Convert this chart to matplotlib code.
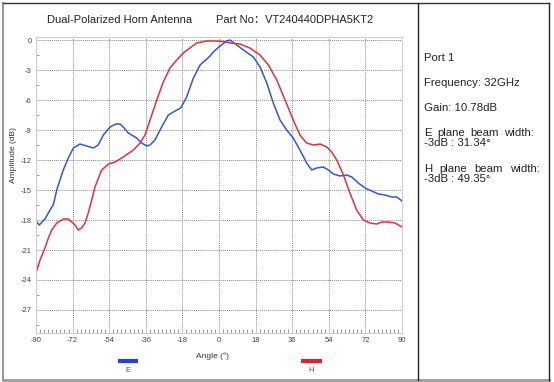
import matplotlib
matplotlib.use("Agg")
import matplotlib.pyplot as plt
from matplotlib.lines import Line2D
from matplotlib.ticker import MultipleLocator

plt.rcParams['font.family'] = ['Liberation Sans', 'Noto Sans CJK SC', 'DejaVu Sans']

e_angle = [-90, -88.4, -85.6, -83.1, -81.5, -79.8, -76.6, -74.1, -71.6, -68.4, -65.1, -61.8, -59.4,
           -56.9, -53.6, -50.7, -48.7, -47.1, -44.6, -40.5, -38.0, -35.6, -33.9, -31.5, -28.2, -24.9,
           -21.6, -18.8, -15.9, -12.6, -9.3, -6.0, -4.4, -2.8, 0.5, 3.8, 5.4, 8.7, 12.0, 16.9, 20.2,
           23.5, 26.7, 30.0, 33.3, 36.5, 39.8, 43.1, 45.6, 48.0, 51.3, 53.8, 56.2, 59.5, 62.8, 65.3,
           68.5, 71.8, 75.1, 78.4, 81.7, 84.9, 87.4, 90]
e_db = [-18.1, -18.5, -17.9, -17.0, -16.5, -15.0, -13.0, -11.8, -10.8, -10.4, -10.6, -10.8, -10.5,
        -9.5, -8.7, -8.4, -8.4, -8.7, -9.3, -9.8, -10.3, -10.6, -10.5, -10.0, -8.7, -7.5,
        -7.1, -6.8, -5.7, -3.8, -2.5, -1.9, -1.6, -1.2, -0.6, -0.1, 0.0, -0.5, -1.0, -1.7, -2.7,
        -4.3, -6.3, -8.0, -9.0, -9.8, -11.0, -12.3, -13.0, -12.8, -12.7, -13.0, -13.4, -13.6, -13.5, -13.7,
        -14.3, -14.8, -15.1, -15.4, -15.5, -15.7, -15.7, -16.1]

h_angle = [-90, -88.0, -85.6, -83.9, -82.3, -79.8, -76.6, -74.1, -72.4, -70.8, -69.2, -67.5, -65.9,
           -64.3, -62.6, -61.0, -57.7, -54.4, -51.1, -47.1, -42.1, -38.8, -36.4, -33.9, -30.6, -27.4,
           -24.1, -20.8, -17.6, -14.3, -11.0, -6.0, -1.1, 3.8, 5.4, 10.3, 15.2, 20.2, 24.3, 28.4,
           32.5, 36.5, 39.8, 43.1, 46.4, 49.7, 53.0, 55.4, 57.9, 61.2, 64.4, 67.7, 71.0, 74.3, 77.5,
           80.0, 83.3, 86.6, 90]
h_db = [-23.3, -22.0, -20.8, -19.8, -19.0, -18.3, -17.9, -17.9, -18.2, -18.5, -19.0, -18.8, -18.3,
        -17.3, -16.0, -14.7, -13.0, -12.4, -12.2, -11.7, -11.0, -10.3, -9.5, -8.0, -6.0, -4.2,
        -2.8, -2.0, -1.3, -0.8, -0.3, -0.1, -0.1, -0.2, -0.3, -0.4, -0.8, -1.5, -2.5, -4.0,
        -6.0, -8.0, -9.5, -10.3, -10.5, -10.4, -10.7, -11.2, -12.0, -13.5, -15.3, -17.0, -18.0, -18.3, -18.4,
        -18.2, -18.2, -18.3, -18.7]

x_ticks = [-90, -72, -54, -36, -18, 0, 18, 36, 54, 72, 90]
y_ticks = [0, -3, -6, -9, -12, -15, -18, -21, -24, -27]

title_left = "Dual-Polarized Horn Antenna"
title_right = "Part No：VT240440DPHA5KT2"
info_lines = [("Port 1", 58), ("Frequency: 32GHz", 83), ("Gain: 10.78dB", 108),
              ("-3dB : 31.34°", 143), ("-3dB : 49.35°", 179)]
# justified heading lines: (text, left px, right px, y px)
info_justified = [("E plane beam width:", 424, 534, 133),
                  ("H plane beam width:", 424, 540, 169)]

W, H = 554, 382
fig = plt.figure(figsize=(W / 100, H / 100), dpi=100)

def fx(px):
    return px / W

def fy(py):
    return 1 - py / H

# outer frame
fig.add_artist(Line2D([fx(3), fx(3)], [fy(3), fy(380)], color='#9a9a9a', lw=1.5))
fig.add_artist(Line2D([fx(3), fx(549)], [fy(3), fy(3)], color='#333333', lw=1.0))
fig.add_artist(Line2D([fx(3), fx(549)], [fy(379.5), fy(379.5)], color='#9a9a9a', lw=2.0))
fig.add_artist(Line2D([fx(549), fx(549)], [fy(3), fy(380)], color='#222222', lw=1.0))
fig.add_artist(Line2D([fx(418), fx(418)], [fy(3), fy(380)], color='#222222', lw=1.0))

ax = fig.add_axes([fx(36), fy(333), fx(402) - fx(36), fy(37) - fy(333)])
ax.plot(e_angle, e_db, color='#3355d6', lw=1.1)
ax.plot(h_angle, h_db, color='#e3303c', lw=1.1)
ax.set_xlim(-90, 90)
ax.set_ylim(-29.3, 0.3)
ax.set_xticks(x_ticks)
ax.set_yticks(y_ticks)
ax.set_xticklabels([str(v) for v in x_ticks])
ax.set_yticklabels([str(v) for v in y_ticks])
ax.xaxis.set_minor_locator(MultipleLocator(2))
ax.yaxis.set_minor_locator(MultipleLocator(1.5))
ax.grid(True, which='major', color='#8a8a8a', lw=0.7, ls=(0, (1, 1)))
ax.tick_params(axis='both', which='major', labelsize=5.5, labelcolor='#444444', length=0, pad=3)
ax.tick_params(axis='x', which='minor', direction='in', length=3, color='#888888', width=0.6)
ax.tick_params(axis='y', which='minor', direction='in', length=2, color='#888888', width=0.6)
for s in ax.spines.values():
    s.set_color('#cccccc')
    s.set_linewidth(0.8)
ax.set_xlabel("Angle (°)", fontsize=6, color='#333333')
ax.xaxis.set_label_coords((212 - 36) / 366, -(352 - 333) / 296)
ax.set_ylabel("Amplitude (dB)", fontsize=6, color='#333333')
ax.yaxis.set_label_coords((17 - 36) / 366, (333 - 155) / 296)

# titles
fig.text(fx(47), fy(20), title_left, fontsize=8.0, color='#222222', va='center', ha='left')
fig.text(fx(216), fy(20), title_right, fontsize=8.0, color='#222222', va='center', ha='left')

# legend
fig.add_artist(Line2D([fx(117.5), fx(138)], [fy(361), fy(361)], color='#2244cc', lw=3, solid_capstyle='butt'))
fig.text(fx(127.5), fy(370.5), "E", fontsize=5.5, color='#555555', ha='center', va='center')
fig.add_artist(Line2D([fx(300.5), fx(321.5)], [fy(361), fy(361)], color='#dd2233', lw=3, solid_capstyle='butt'))
fig.text(fx(311), fy(370.5), "H", fontsize=5.5, color='#555555', ha='center', va='center')

for txt, py in info_lines:
    fig.text(fx(424), fy(py), txt, fontsize=8.2, color='#222222', ha='left', va='center')

renderer = fig.canvas.get_renderer()
for txt, x0, x1, py in info_justified:
    words = txt.split(" ")
    arts = [fig.text(0, fy(py), w, fontsize=8.2, color='#222222', ha='left', va='center') for w in words]
    widths = [a.get_window_extent(renderer).width for a in arts]
    gap = (x1 - x0 - sum(widths)) / (len(words) - 1)
    x = x0
    for a, wdt in zip(arts, widths):
        a.set_x(fx(x))
        x += wdt + gap

fig.savefig("out.png", dpi=100)
